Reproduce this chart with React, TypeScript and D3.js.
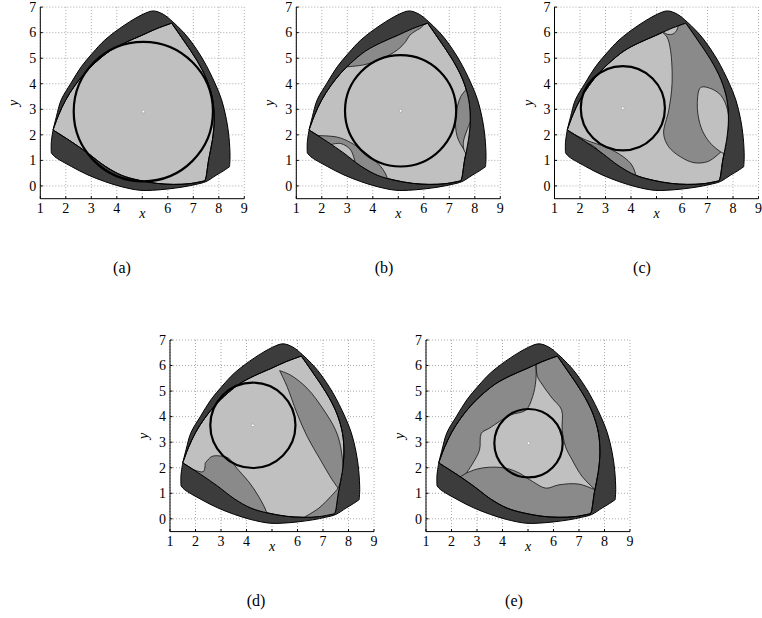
import React from "react";
import * as d3 from "d3";

type Pt = [number, number];

// axis ticks
const xTicks = [1, 2, 3, 4, 5, 6, 7, 8, 9];
const xTickLabels = ["1", "2", "3", "4", "", "6", "7", "8", "9"];
const yTicks = [0, 1, 2, 3, 4, 5, 6, 7];
const captions = ["(a)", "(b)", "(c)", "(d)", "(e)"];

// housing outline (outer edge of the dark band), same in every panel
const housing: Pt[] = [
  [5.43, 6.85], [5.82, 6.72], [6.2, 6.42], [6.55, 6.08], [6.87, 5.71], [7.39, 4.93],
  [7.85, 4.02], [8.11, 3.37], [8.3, 2.6], [8.4, 1.9], [8.44, 1.15], [8.42, 0.75],
  [8.2, 0.6], [7.9, 0.42], [7.5, 0.17], [7.1, 0.06], [6.6, -0.04], [6.0, -0.12],
  [5.4, -0.17], [4.9, -0.17], [4.18, -0.03], [3.53, 0.17], [2.87, 0.43], [2.22, 0.76],
  [1.56, 1.15], [1.43, 1.3], [1.43, 1.7], [1.5, 2.19], [1.63, 2.71], [1.82, 3.37],
  [2.2, 4.02], [2.61, 4.67], [3.05, 5.2], [3.53, 5.71], [4.31, 6.3], [5.03, 6.72],
];
const housingCorners = [11, 25, 27];

// rotor area (light region), same in every panel
const rotor: Pt[] = [
  [6.15, 6.37], [6.61, 5.71], [7.13, 4.93], [7.53, 4.15], [7.76, 3.37], [7.82, 2.58],
  [7.75, 1.8], [7.6, 1.02], [7.49, 0.3], [7.45, 0.2], [6.87, 0.09], [6.22, 0.06],
  [5.56, 0.1], [4.83, 0.23], [4.18, 0.42], [3.53, 0.78], [2.87, 1.28], [2.22, 1.73],
  [1.5, 2.19], [1.72, 2.78], [2.0, 3.37], [2.35, 3.92], [2.75, 4.42], [3.13, 4.8],
  [3.72, 5.28], [4.31, 5.6], [4.95, 5.88], [5.55, 6.15],
];
const rotorCorners = [0, 9, 18];

// inscribed circles: [cx, cy, r]
const circleA = [5.04, 2.91, 2.73];
const circleB = [5.09, 2.94, 2.18];
const circleC = [3.68, 3.04, 1.65];
const circleD = [4.25, 3.66, 1.67];
const circleE = [5.02, 2.96, 1.34];

// (b)
const midB1: Pt[] = [
  [2.95, 4.66], [3.65, 4.74], [4.31, 4.96], [4.96, 5.32], [5.29, 5.65], [5.45, 5.9],
  [5.7, 6.08], [5.95, 6.25], [6.1, 6.7], [5.0, 7.2], [2.4, 5.2], [2.6, 4.6],
];
const midB2: Pt[] = [
  [7.71, 3.82], [7.45, 3.5], [7.25, 2.71], [7.31, 1.93], [7.58, 1.41], [7.77, 1.15],
  [8.3, 1.2], [8.3, 3.8],
];
const lightB2: Pt[] = [
  [7.87, 2.6], [7.7, 2.2], [7.55, 1.7], [7.6, 1.35], [7.77, 1.15], [8.3, 1.2], [8.3, 2.6],
];
const midB3: Pt[] = [
  [1.85, 1.97], [2.61, 1.91], [3.13, 1.7], [3.78, 1.25], [4.31, 0.76], [4.57, 0.3],
  [4.6, -0.3], [2.0, 0.6], [1.3, 1.8],
];
const lightB3: Pt[] = [
  [2.28, 1.6], [2.74, 1.66], [3.13, 1.41], [3.33, 0.82], [2.8, 0.8], [2.1, 1.4],
];

// (c)
const midC1: Pt[] = [
  [5.22, 6.02], [5.41, 5.83], [5.55, 5.31], [5.61, 4.01], [5.48, 2.96], [5.28, 2.05],
  [5.48, 1.53], [5.94, 1.14], [6.47, 0.91], [7.0, 0.95], [7.39, 1.21], [7.85, 1.66],
  [8.6, 1.6], [8.6, 3.5], [7.2, 6.3], [6.2, 7.0], [5.2, 6.5],
];
const lightC1: Pt[] = [
  [5.3, 6.0], [5.45, 5.93], [5.65, 5.95], [5.8, 6.1], [5.85, 6.3], [5.9, 6.8], [5.2, 6.8],
];
const lightC2: Pt[] = [
  [6.73, 3.85], [7.13, 3.81], [7.52, 3.55], [7.79, 2.96], [7.85, 1.79], [7.72, 1.27],
  [7.26, 1.53], [6.93, 1.92], [6.7, 2.44], [6.6, 3.22],
];
const midC2: Pt[] = [
  [1.66, 2.08], [2.25, 1.79], [3.04, 1.51], [3.7, 1.14], [4.03, 0.82], [4.2, 0.39],
  [4.3, -0.3], [2.0, 0.6], [1.3, 1.8],
];
const lightC3: Pt[] = [
  [1.92, 1.64], [2.38, 1.64], [2.78, 1.34], [3.04, 0.95], [2.6, 0.8], [1.9, 1.4],
];

// (d)
const midD1: Pt[] = [
  [5.3, 5.8], [5.59, 5.18], [5.98, 4.13], [6.38, 3.22], [6.9, 2.31], [7.36, 1.53],
  [7.69, 1.07], [7.79, 1.79], [7.69, 2.83], [7.49, 3.48], [7.03, 4.26], [6.38, 5.11],
  [5.72, 5.63],
];
const midD2: Pt[] = [
  [6.31, 0.09], [6.84, 0.42], [7.3, 0.87], [7.62, 1.26], [7.75, 1.79], [8.5, 1.8],
  [8.5, -0.3], [6.3, -0.3],
];
const midD3: Pt[] = [
  [1.59, 2.05], [1.92, 1.92], [2.31, 1.85], [2.38, 2.18], [2.64, 2.44], [2.97, 2.46],
  [3.3, 2.37], [3.62, 1.98], [4.08, 1.46], [4.48, 0.87], [4.8, 0.22], [4.9, -0.4],
  [2.0, 0.5], [1.3, 1.9],
];

// (e)
const lightE: Pt[] = [
  [5.31, 6.09], [5.31, 5.44], [5.18, 4.78], [4.92, 4.26], [4.33, 4.07], [3.88, 3.81],
  [3.49, 3.55], [3.17, 3.35], [3.1, 2.7], [2.84, 2.18], [2.58, 1.79], [2.97, 1.94],
  [3.49, 2.02], [4.14, 1.98], [4.66, 1.79], [5.18, 1.46], [5.7, 1.2], [6.21, 1.33],
  [6.99, 1.36], [7.64, 1.13], [7.12, 1.66], [6.73, 2.31], [6.47, 2.83], [6.34, 3.48],
  [6.32, 4.26], [5.95, 4.72], [5.57, 5.24], [5.37, 5.57],
];
const seamE: Pt[] = [[2.58, 1.79], [2.2, 1.55]];

type Region = { pts: Pt[]; corners: number[] };
const reg = (pts: Pt[], corners: number[] = []): Region => ({ pts, corners });

const panels = [
  { circle: circleA, fullMid: false, mids: [] as Region[], lights: [] as Region[], seams: [] as Pt[][] },
  {
    circle: circleB, fullMid: false,
    mids: [reg(midB1, [0, 8]), reg(midB2, [0, 5]), reg(midB3, [0, 6])],
    lights: [reg(lightB2, [0, 4]), reg(lightB3, [0, 3])], seams: [] as Pt[][],
  },
  {
    circle: circleC, fullMid: false,
    mids: [reg(midC1, [0, 11]), reg(midC2, [0, 6])],
    lights: [reg(lightC1, [0, 5]), reg(lightC2), reg(lightC3, [0, 3])], seams: [] as Pt[][],
  },
  {
    circle: circleD, fullMid: false,
    mids: [reg(midD1, [0, 6]), reg(midD2, [0, 4]), reg(midD3, [0, 3, 11])],
    lights: [] as Region[], seams: [] as Pt[][],
  },
  { circle: circleE, fullMid: true, mids: [] as Region[], lights: [reg(lightE, [0, 10, 19])], seams: [seamE] },
];

// layout
const W = 762, H = 618;
const PW = 204, PH = 191.6;
const origins = [[40.3, 7.1], [296.3, 7.1], [554.5, 7.1], [170, 340], [426, 340]];
const captionAt = [[122, 273], [384, 273], [642, 273], [256, 606], [514, 606]];

const DARK = "#3c3c3c";
const MID = "#8a8a8a";
const LIGHT = "#c0c0c0";
const FONT = "Liberation Serif, DejaVu Serif, serif";

export default function App() {
  const x = d3.scaleLinear().domain([1, 9]).range([0, PW]);
  const y = d3.scaleLinear().domain([-0.5, 7]).range([PH, 0]);
  const seg = d3.line<Pt>().x(d => x(d[0])).y(d => y(d[1])).curve(d3.curveCatmullRom.alpha(0.5));
  const ring = d3.line<Pt>().x(d => x(d[0])).y(d => y(d[1])).curve(d3.curveCatmullRomClosed.alpha(0.5));

  // closed outline, smooth between corner points, sharp at them
  const outline = (pts: Pt[], corners: number[]) => {
    if (!corners.length) return ring(pts) || "";
    const n = pts.length;
    const c0 = corners[0];
    const loop = [...pts.slice(c0), ...pts.slice(0, c0), pts[c0]];
    const cs = corners.map(c => (c - c0 + n) % n).concat([n]);
    let d = "";
    for (let k = 0; k < cs.length - 1; k++) {
      const s = seg(loop.slice(cs[k], cs[k + 1] + 1)) || "";
      d += k === 0 ? s : "L" + s.slice(1);
    }
    return d + "Z";
  };

  const rotorPath = outline(rotor, rotorCorners);
  const housingPath = outline(housing, housingCorners);
  const txt = { fontFamily: FONT, fill: "#000" };

  return (
    <svg width={W} height={H} style={{ position: "absolute", left: 0, top: 0, background: "#fff" }}>
      <defs>
        <clipPath id="rotorClip">
          <path d={rotorPath} />
        </clipPath>
      </defs>
      {panels.map((p, i) => {
        const [ox, oy] = origins[i];
        const [cx, cy, r] = p.circle;
        return (
          <g key={i} transform={`translate(${ox},${oy})`}>
            {/* grid */}
            {xTicks.map(t => (
              <line key={"gx" + t} x1={x(t)} x2={x(t)} y1={0} y2={PH}
                stroke="#a8a8a8" strokeWidth={1} strokeDasharray="1,2" />
            ))}
            {yTicks.map(t => (
              <line key={"gy" + t} x1={0} x2={PW} y1={y(t)} y2={y(t)}
                stroke="#a8a8a8" strokeWidth={1} strokeDasharray="1,2" />
            ))}
            {/* housing + rotor */}
            <path d={housingPath} fill={DARK} stroke="#000" strokeWidth={1} />
            <path d={rotorPath} fill={p.fullMid ? MID : LIGHT} stroke="#000" strokeWidth={1} />
            <g clipPath="url(#rotorClip)">
              {p.mids.map((m, j) => (
                <path key={"m" + j} d={outline(m.pts, m.corners)} fill={MID} stroke="#111" strokeWidth={0.8} />
              ))}
              {p.lights.map((m, j) => (
                <path key={"l" + j} d={outline(m.pts, m.corners)} fill={LIGHT} stroke="#111" strokeWidth={0.8} />
              ))}
              {p.seams.map((m, j) => (
                <path key={"s" + j} d={seg(m) || ""} fill="none" stroke="#111" strokeWidth={0.8} />
              ))}
            </g>
            <path d={rotorPath} fill="none" stroke="#000" strokeWidth={1} />
            {/* circle */}
            <ellipse cx={x(cx)} cy={y(cy)} rx={x(cx + r) - x(cx)} ry={y(cy) - y(cy + r)}
              fill="none" stroke="#000" strokeWidth={2.2} />
            <circle cx={x(cx)} cy={y(cy)} r={1.4} fill="#fff" stroke="#888" strokeWidth={0.5} />
            {/* axes */}
            <line x1={0} x2={0} y1={0} y2={PH} stroke="#000" strokeWidth={1} />
            <line x1={0} x2={PW} y1={PH} y2={PH} stroke="#000" strokeWidth={1} />
            {xTicks.map(t => (
              <line key={"tx" + t} x1={x(t)} x2={x(t)} y1={PH} y2={PH - 2.5} stroke="#000" strokeWidth={1} />
            ))}
            {yTicks.map(t => (
              <line key={"ty" + t} x1={0} x2={2.5} y1={y(t)} y2={y(t)} stroke="#000" strokeWidth={1} />
            ))}
            {xTicks.map((t, k) => (
              <text key={"lx" + t} x={x(t)} y={PH + 14.6} textAnchor="middle" fontSize={14} style={txt}>
                {xTickLabels[k]}
              </text>
            ))}
            {yTicks.map(t => (
              <text key={"ly" + t} x={-4} y={y(t) + 4.8} textAnchor="end" fontSize={14} style={txt}>{t}</text>
            ))}
            <text x={x(5)} y={PH + 19.5} textAnchor="middle" fontSize={14} fontStyle="italic" style={txt}>x</text>
            <text transform={`translate(-22,${y(3.25)}) rotate(-90)`} textAnchor="middle" fontSize={14}
              fontStyle="italic" style={txt}>y</text>
          </g>
        );
      })}
      {captions.map((c, i) => (
        <text key={c} x={captionAt[i][0]} y={captionAt[i][1]} textAnchor="middle" fontSize={16} style={txt}>{c}</text>
      ))}
    </svg>
  );
}
